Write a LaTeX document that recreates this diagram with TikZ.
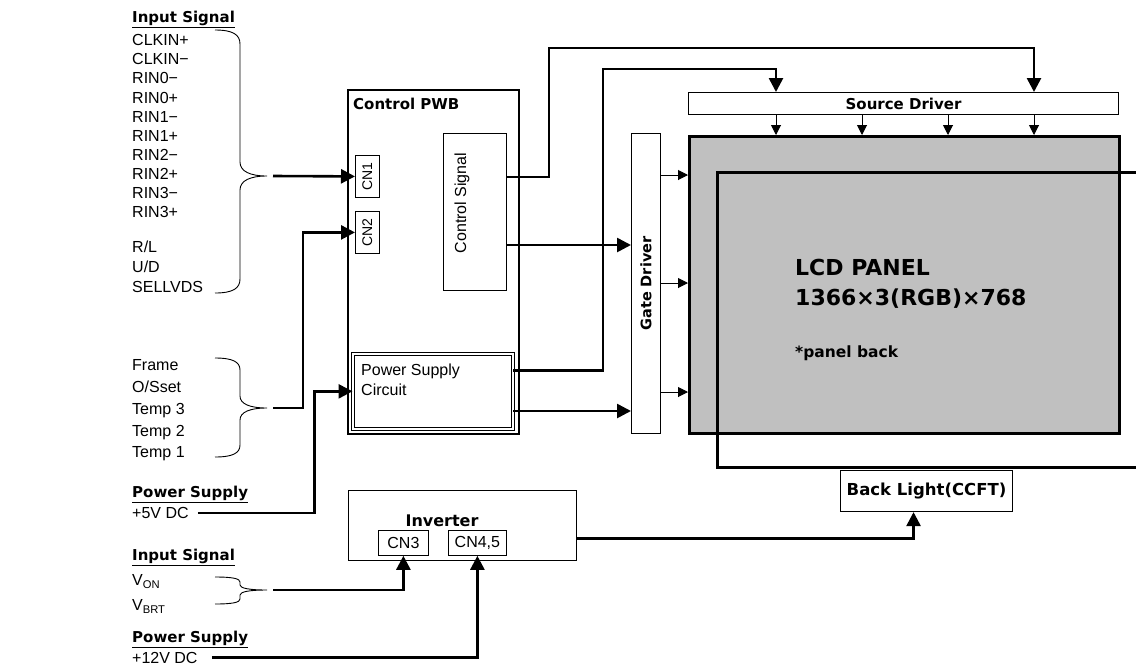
\documentclass[tikz,border=0pt]{standalone}
\usepackage{fontspec}
\setmainfont{Liberation Sans}
\newfontfamily\dejavu{DejaVu Sans}
\usetikzlibrary{arrows.meta}
\definecolor{lcdgray}{RGB}{192,192,192}
\newcommand\lbfont{\fontsize{16}{19}\selectfont}
\newcommand\hdfont{\dejavu\bfseries\fontsize{15}{18}\selectfont}
\newcommand\sigbrace[5]{%
  \draw[line width=0.9pt] (215,#2) .. controls (233,#2) and (240,#2+#5/3) .. (240,#2+#5)
    -- (240,#3-#5) .. controls (240,#3-#5/3) and (250,#3) .. (267,#3)
    .. controls (250,#3) and (240,#3+#5/3) .. (240,#3+#5)
    -- (240,#4-#5) .. controls (240,#4-#5/3) and (233,#4) .. (215,#4);
  \coordinate (#1) at (273,#3);}

\begin{document}
\begin{tikzpicture}[x=1pt, y=-1pt,
  lbl/.style={font=\lbfont, anchor=west, inner sep=0pt, text height=11.5pt, text depth=0pt},
  hdr/.style={font=\hdfont, anchor=west, inner sep=0pt, text height=11pt, text depth=0pt},
  blk/.style={draw, line width=1.1pt, anchor=north west, inner sep=0pt},
  cnbox/.style={blk, line width=0.8pt},
  conn/.style={line width=2.6pt, -{Triangle[length=14pt,width=14pt]}},
  tick/.style={line width=1pt, -{Triangle[length=10pt,width=10pt]}}]
  \useasboundingbox (0,0) rectangle (1136,665);

  \node[hdr] (insig) at (132,17) {\underline{Input Signal}};
  \foreach \t [count=\i from 0] in {CLKIN+, CLKIN−, RIN0−, RIN0+, RIN1−, RIN1+, RIN2−, RIN2+, RIN3−, RIN3+}
    \node[lbl] (sig\i) at (132,40+19.1*\i) {\t};
  \foreach \t [count=\i from 0] in {R/L, U/D, SELLVDS}
    \node[lbl] (sel\i) at (132,247+20*\i) {\t};
  \sigbrace{b1}{30}{176}{293}{14}

  \foreach \t [count=\i from 0] in {Frame, O/Sset, Temp 3, Temp 2, Temp 1}
    \node[lbl] (tmp\i) at (132,365+21.75*\i) {\t};
  \sigbrace{b2}{358}{408}{457}{12}

  \node[hdr] (ps5) at (132,492) {\underline{Power Supply}};
  \node[lbl] (p5) at (132,513) {+5V DC};
  \node[hdr] (insig2) at (132,555) {\underline{Input Signal}};
  \node[lbl] (von) at (132,580) {V\textsubscript{ON}};
  \node[lbl] (vbrt) at (132,605) {V\textsubscript{BRT}};
  \sigbrace{b3}{577}{590}{604}{5}
  \node[hdr] (ps12) at (132,637) {\underline{Power Supply}};
  \node[lbl] (p12) at (132,657.5) {+12V DC};

  \node[blk, line width=1.6pt, minimum width=171pt, minimum height=344pt] (cpwb) at (347,89) {};
  \node[hdr, anchor=north west] (cpwbt) at (353,98.5) {Control PWB};
  \node[cnbox, minimum width=24pt, minimum height=42pt, font=\fontsize{14}{16}\selectfont] (cn1) at (355,155) {\rotatebox{90}{CN1}};
  \node[cnbox, minimum width=24pt, minimum height=42pt, font=\fontsize{14}{16}\selectfont] (cn2) at (355,211) {\rotatebox{90}{CN2}};
  \node[cnbox, minimum width=63pt, minimum height=157pt] (ctrl) at (443,133) {};
  \node[font=\lbfont, rotate=90] (ctrlt) at (462,203) {Control Signal};
  \node[cnbox, double, double distance=2pt, line width=0.7pt, minimum width=160pt, minimum height=75pt] (psc) at (352.5,353.5) {};
  \node[lbl] (psct1) at (361,370) {Power Supply};
  \node[lbl] (psct2) at (361,390) {Circuit};

  \node[blk, minimum width=29pt, minimum height=300pt, font=\hdfont\fontsize{14.5}{16}\selectfont] (gate) at (631,133) {\rotatebox{90}{Gate Driver}};
  \node[blk, minimum width=430pt, minimum height=22pt, font=\hdfont\fontsize{15}{17}\selectfont] (src) at (688,92) {Source Driver};
  \node[blk, fill=lcdgray, line width=3pt, minimum width=430pt, minimum height=297pt] (lcd) at (688,135) {};
  \draw[line width=3pt] (1136,172) -- (717,172) -- (717,467) -- (1136,467);
  \node[hdr, font=\hdfont\fontsize{22}{26}\selectfont, text height=16pt] (lcdt) at (795,267) {LCD PANEL};
  \node[hdr, font=\hdfont\fontsize{22}{26}\selectfont, text height=16pt] (lcdr) at (795,297) {1366×3(RGB)×768};
  \node[hdr, font=\hdfont\fontsize{15.5}{18}\selectfont] (lcdb) at (795,352) {*panel back};
  \node[blk, minimum width=172pt, minimum height=41pt, font=\hdfont\fontsize{16.5}{19}\selectfont] (bl) at (840,470) {Back Light(CCFT)};

  \node[blk, minimum width=228pt, minimum height=70pt] (inv) at (348,490) {};
  \node[font=\hdfont\fontsize{16}{19}\selectfont] (invt) at (442,521) {Inverter};
  \node[cnbox, minimum width=50pt, minimum height=25pt, font=\lbfont] (cn3) at (378,530) {CN3};
  \node[cnbox, minimum width=58pt, minimum height=25pt, font=\lbfont] (cn45) at (448,530) {CN4,5};

  \coordinate (src1) at (776,92);
  \coordinate (src2) at (1034,92);
  \coordinate (gin1) at (631,245);
  \coordinate (gin2) at (631,411);
  \draw[conn] (b1) -- (cn1.west);
  \draw[conn] (b2) -| ([xshift=-52pt]cn2.west) -- (cn2.west);
  \draw[conn] ([xshift=9pt]p5.east) -| ([xshift=-38pt]psc.west) -- (psc.west);
  \draw[conn] ([yshift=-44pt]ctrl.north east) -| (549,48) -| (src2);
  \draw[conn] ([yshift=-17pt]psc.north east) -| (603,69) -| (src1);
  \draw[conn] (ctrl.east |- gin1) -- (gin1);
  \draw[conn] (psc.east |- gin2) -- (gin2);
  \foreach \y in {175,283,392}
    \draw[tick] (gate.east |- 0,\y) -- (lcd.west |- 0,\y);
  \foreach \x in {776,862,948,1034}
    \draw[tick] (src.south -| \x,0) -- (lcd.north -| \x,0);
  \draw[conn] (b3) -| (cn3.south);
  \draw[conn] ([xshift=14pt]p12.east) -| (cn45.south);
  \draw[conn] ([yshift=-13pt]inv.east) -| ([xshift=-13pt]bl.south);
\end{tikzpicture}
\end{document}
